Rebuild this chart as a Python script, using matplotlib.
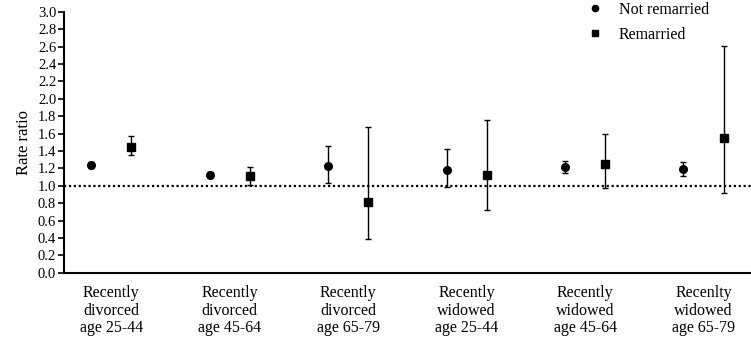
import matplotlib.pyplot as plt
from matplotlib.lines import Line2D
import numpy as np

# data
groups = ["Recently\ndivorced\nage 25-44", "Recently\ndivorced\nage 45-64",
          "Recently\ndivorced\nage 65-79", "Recently\nwidowed\nage 25-44",
          "Recently\nwidowed\nage 45-64", "Recenlty\nwidowed\nage 65-79"]

not_rem = [1.24, 1.13, 1.23, 1.18, 1.22, 1.19]
not_rem_lo = [1.20, 1.10, 1.03, 0.99, 1.15, 1.11]
not_rem_hi = [1.28, 1.16, 1.46, 1.42, 1.29, 1.27]

rem = [1.45, 1.11, 0.81, 1.13, 1.25, 1.55]
rem_lo = [1.35, 1.01, 0.39, 0.72, 0.98, 0.92]
rem_hi = [1.57, 1.22, 1.68, 1.76, 1.60, 2.61]

yticks = np.arange(0, 3.01, 0.2)

plt.rcParams["font.family"] = ["Liberation Serif", "DejaVu Serif"]

fig, ax = plt.subplots(figsize=(7.51, 3.39), dpi=100)
fig.subplots_adjust(left=0.085, right=1.0, top=0.965, bottom=0.195)

x = np.arange(len(groups))
off = 0.17

nr = np.array(not_rem)
r = np.array(rem)
ax.errorbar(x - off, nr, yerr=[nr - np.array(not_rem_lo), np.array(not_rem_hi) - nr],
            fmt="o", color="black", ms=5.5, capsize=2.5, elinewidth=1, capthick=1,
            zorder=3)
ax.errorbar(x + off, r, yerr=[r - np.array(rem_lo), np.array(rem_hi) - r],
            fmt="s", color="black", ms=5.5, capsize=2.5, elinewidth=1, capthick=1,
            zorder=3)

ax.axhline(1.0, color="black", linestyle=(0, (1, 1.2)), linewidth=1.6, zorder=2)

ax.set_xlim(-0.4, 5.4)
ax.set_ylim(0, 3.0)
ax.set_yticks(yticks)
ax.set_yticklabels([f"{t:.1f}" for t in yticks], fontsize=10.5)
ax.set_xticks(x)
ax.set_xticklabels(groups, fontsize=11.5, linespacing=1.12)
ax.tick_params(axis="x", length=0, pad=9)
ax.tick_params(axis="y", length=4.5, width=1.2, direction="out", pad=1)
ax.set_ylabel("Rate ratio", fontsize=12, labelpad=4)

for s in ["top", "right"]:
    ax.spines[s].set_visible(False)
ax.spines["left"].set_linewidth(1.5)
ax.spines["bottom"].set_linewidth(1.5)

handles = [Line2D([], [], marker="o", ls="none", color="black", ms=4.5),
           Line2D([], [], marker="s", ls="none", color="black", ms=4.5)]
fig.legend(handles, ["Not remarried", "Remarried"], loc="upper left",
           bbox_to_anchor=(587 / 751, 1.0 - 2 / 339), frameon=False, fontsize=11.5,
           borderpad=0, borderaxespad=0, handlelength=1.0, handletextpad=1.0,
           labelspacing=0.55)

plt.savefig("out.png", dpi=100)
